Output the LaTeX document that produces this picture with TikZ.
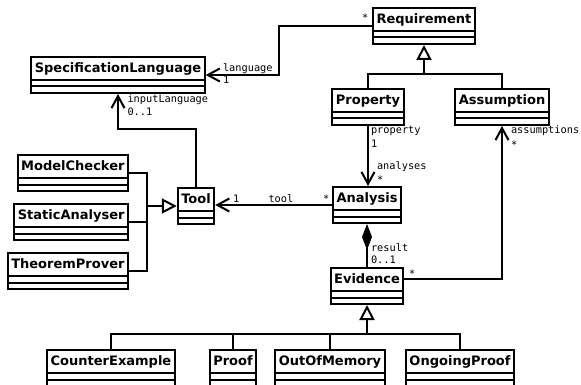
\documentclass[tikz,border=0pt]{standalone}
\usepackage{fontspec}
\setmainfont{DejaVu Sans}
\setmonofont{DejaVu Sans Mono}
\usetikzlibrary{arrows.meta,calc}

\begin{document}
\begin{tikzpicture}[
  x=1pt, y=-1pt,
  line width=2pt,
  umlclass/.style={draw, inner xsep=3.5pt, inner ysep=0pt, text height=15.7pt, text depth=20.3pt,
    font=\fontsize{13}{15}\selectfont\bfseries, anchor=north,
    path picture={\draw ([yshift=-23pt]path picture bounding box.north west) -- ([yshift=-23pt]path picture bounding box.north east)
      ([yshift=-29.5pt]path picture bounding box.north west) -- ([yshift=-29.5pt]path picture bounding box.north east);}},
  role/.style={font=\fontsize{10.3}{12}\selectfont\ttfamily, inner sep=0pt, anchor=base west},
  assoc/.style={-{Straight Barb[length=12pt,width=13pt]}},
  gen/.style={-{Triangle[open,length=15pt,width=15pt]}},
  comp/.style={{Diamond[length=26pt,width=10pt]}-}
]
\useasboundingbox (0,0) rectangle (581,385);

% classes
\node[umlclass] (spec) at (118,56) {SpecificationLanguage};
\node[umlclass] (req) at (424,7) {Requirement};
\node[umlclass] (prop) at (368,88) {Property};
\node[umlclass] (assum) at (502,88) {Assumption};
\node[umlclass, anchor=north east] (mc) at (129,154) {ModelChecker};
\node[umlclass, anchor=north east] (sa) at (129,203) {StaticAnalyser};
\node[umlclass, anchor=north east] (tp) at (129,252) {TheoremProver};
\node[umlclass] (tool) at (196,187) {Tool};
\node[umlclass] (ana) at (367,186) {Analysis};
\node[umlclass] (evi) at (367,267) {Evidence};
\node[umlclass] (cex) at (111,349) {CounterExample};
\node[umlclass] (proof) at (233,349) {Proof};
\node[umlclass] (oom) at (330,349) {OutOfMemory};
\node[umlclass] (ongo) at (460,349) {OngoingProof};

% generalisations
\coordinate (reqbar) at ($(req.south)+(0,29)$);
\draw[gen] (reqbar) -- (req.south);
\draw (prop.north) |- (reqbar) -| (assum.north);

\coordinate (toolbar) at ($(tool.west)+(-30,0)$);
\draw[gen] (toolbar) -- (tool.west);
\draw (mc.east) -| (toolbar);
\draw (sa.east) -| (toolbar);
\draw (tp.east) -| (toolbar);

\coordinate (evibar) at ($(evi.south)+(0,29)$);
\draw[gen] (evibar) -- (evi.south);
\draw (cex.north) |- (evibar) -| (ongo.north);
\draw (proof.north) |- (evibar);
\draw (oom.north) |- (evibar);

% associations
\draw[assoc] (req.west) -- ++(-93,0) |- (spec.east);
\draw[assoc] (tool.north) -- ++(0,-58) -| (spec.south);
\draw[assoc] (prop.south) -- (prop.south |- ana.north);
\draw[assoc] (ana.west) -- (ana.west -| tool.east);
\draw[assoc] ([yshift=7pt]evi.east) -| (assum.south);
\draw[comp] (ana.south) -- (evi.north);

% role names and multiplicities
\node[role] (mreq) at (361,22) {*};
\node[role] (rlang) at (222,72) {language};
\node[role] (mlang) at (222,84) {1};
\node[role] (rinput) at (126.5,102.5) {inputLanguage};
\node[role] (minput) at (126.5,116) {0..1};
\node[role] (rprop) at (370,133.5) {property};
\node[role] (mprop) at (370,147) {1};
\node[role] (rana) at (376,169) {analyses};
\node[role] (mana) at (376,183) {*};
\node[role] (rassum) at (510,133.5) {assumptions};
\node[role] (massum) at (510,148.5) {*};
\node[role] (mtool) at (232,202) {1};
\node[role] (rtool) at (267.5,202) {tool};
\node[role] (mtana) at (322,202) {*};
\node[role] (rres) at (370,251) {result};
\node[role] (mres) at (370,263.5) {0..1};
\node[role] (mevi) at (408,277) {*};
\end{tikzpicture}
\end{document}
